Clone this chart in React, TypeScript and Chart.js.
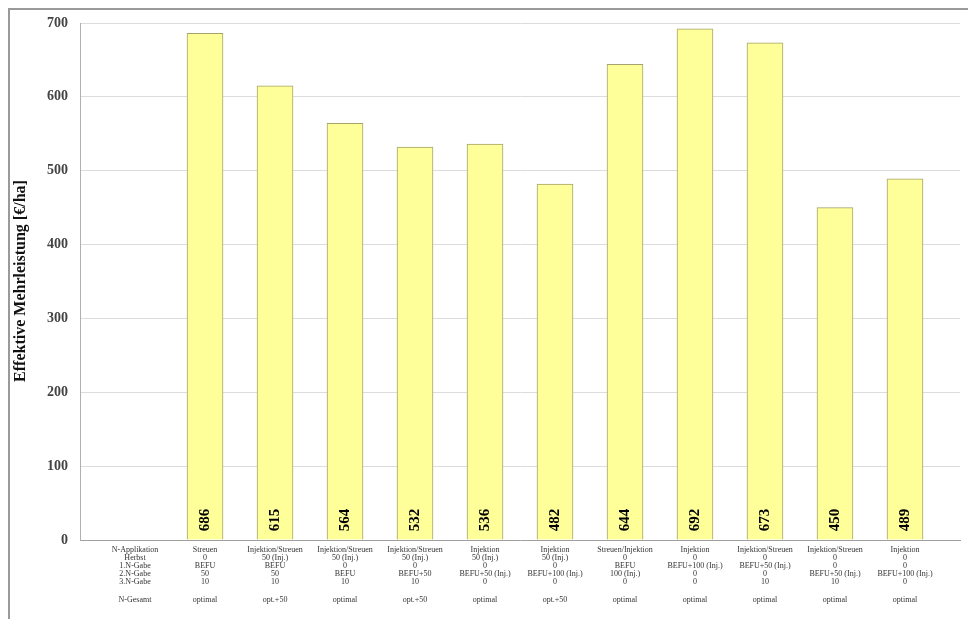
import React, { useEffect, useRef } from "react";
import { Chart, registerables } from "chart.js";

Chart.register(...registerables);

const applikation = ["N-Applikation", "Streuen", "Injektion/Streuen", "Injektion/Streuen", "Injektion/Streuen", "Injektion", "Injektion", "Streuen/Injektion", "Injektion", "Injektion/Streuen", "Injektion/Streuen", "Injektion"];
const herbst = ["Herbst", "0", "50 (Inj.)", "50 (Inj.)", "50 (Inj.)", "50 (Inj.)", "50 (Inj.)", "0", "0", "0", "0", "0"];
const gabe1 = ["1.N-Gabe", "BEFU", "BEFU", "0", "0", "0", "0", "BEFU", "BEFU+100 (Inj.)", "BEFU+50 (Inj.)", "0", "0"];
const gabe2 = ["2.N-Gabe", "50", "50", "BEFU", "BEFU+50", "BEFU+50 (Inj.)", "BEFU+100 (Inj.)", "100 (Inj.)", "0", "0", "BEFU+50 (Inj.)", "BEFU+100 (Inj.)"];
const gabe3 = ["3.N-Gabe", "10", "10", "10", "10", "0", "0", "0", "0", "10", "10", "0"];
const gesamt = ["N-Gesamt", "optimal", "opt.+50", "optimal", "opt.+50", "optimal", "opt.+50", "optimal", "optimal", "optimal", "optimal", "optimal"];
const values: (number | null)[] = [null, 686, 615, 564, 532, 536, 482, 644, 692, 673, 450, 489];
const yTicks = [0, 100, 200, 300, 400, 500, 600, 700];
const yTitle = "Effektive Mehrleistung [€/ha]";

const SERIF = "'Liberation Serif', 'DejaVu Serif', serif";

export default function App() {
  const ref = useRef<HTMLCanvasElement>(null);
  useEffect(() => {
    if (!ref.current) return;
    const overlay = {
      id: "overlay",
      afterDraw(chart: any) {
        const ctx = chart.ctx;
        const x = chart.scales.x;
        const y = chart.scales.y;
        ctx.save();
        // frame
        ctx.strokeStyle = "#9a9a9a";
        ctx.lineWidth = 2;
        ctx.beginPath();
        ctx.moveTo(9, 619);
        ctx.lineTo(9, 9);
        ctx.lineTo(968, 9);
        ctx.stroke();
        // y title
        ctx.save();
        ctx.translate(21, 281);
        ctx.rotate(-Math.PI / 2);
        ctx.font = "bold 16px " + SERIF;
        ctx.fillStyle = "#111";
        ctx.textAlign = "center";
        ctx.textBaseline = "middle";
        ctx.fillText(yTitle, 0, 0);
        ctx.restore();
        // value labels
        const meta = chart.getDatasetMeta(0);
        meta.data.forEach((bar: any, i: number) => {
          const v = values[i];
          if (v === null || v === undefined) return;
          ctx.save();
          ctx.translate(bar.x, y.getPixelForValue(0) - 20);
          ctx.rotate(-Math.PI / 2);
          ctx.font = "bold 15px " + SERIF;
          ctx.fillStyle = "#000";
          ctx.textAlign = "center";
          ctx.textBaseline = "middle";
          ctx.fillText(String(v), 0, 0);
          ctx.restore();
        });
        // x labels
        ctx.font = "8px " + SERIF;
        ctx.fillStyle = "#333";
        ctx.textAlign = "center";
        ctx.textBaseline = "middle";
        const rows = [applikation, herbst, gabe1, gabe2, gabe3];
        for (let i = 0; i < applikation.length; i++) {
          const cx = x.getPixelForValue(i);
          rows.forEach((r, k) => {
            ctx.fillText(r[i], cx, 550 + k * 8);
          });
          ctx.fillText(gesamt[i], cx, 600);
        }
        ctx.restore();
      },
    };
    const chart = new Chart(ref.current, {
      type: "bar",
      data: {
        datasets: [
          {
            data: values.map((v, i) => ({ x: i, y: v })) as any,
            backgroundColor: "#ffff99",
            borderColor: "#a3a36a",
            borderWidth: 1,
            barThickness: 36,
          },
        ],
      },
      options: {
        animation: false,
        responsive: false,
        maintainAspectRatio: false,
        devicePixelRatio: 1,
        layout: { padding: { left: 0, right: 8, top: 23, bottom: 0 } },
        plugins: { legend: { display: false }, tooltip: { enabled: false } },
        scales: {
          x: {
            type: "linear",
            offset: false,
            bounds: "data",
            min: -0.786,
            max: 11.786,
            ticks: { display: false, stepSize: 1 },
            grid: { display: false, drawTicks: false, offset: false },
            border: { display: true, color: "#a0a0a0", width: 1 },
            afterFit(scale: any) {
              scale.height = 79;
            },
          },
          y: {
            min: 0,
            max: 700,
            afterBuildTicks(scale: any) {
              scale.ticks = yTicks.map((v) => ({ value: v }));
            },
            ticks: {
              font: { family: SERIF, size: 14, weight: "bold" },
              color: "#444",
              padding: 12,
            },
            grid: { color: "#dcdcdc", drawTicks: false, lineWidth: 1 },
            border: { display: true, color: "#b0b0b0", width: 1 },
            afterFit(scale: any) {
              scale.width = 80;
            },
          },
        },
      },
      plugins: [overlay],
    });
    return () => chart.destroy();
  }, []);
  return (
    <div style={{ position: "fixed", left: 0, top: 0, width: 968, height: 619, background: "#fff" }}>
      <canvas ref={ref} width={968} height={619} style={{ width: 968, height: 619, display: "block" }} />
    </div>
  );
}
